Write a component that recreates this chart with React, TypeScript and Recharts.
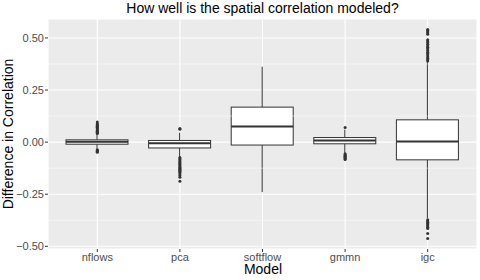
import React from 'react'
import {
  ComposedChart, Bar, Scatter, XAxis, YAxis, CartesianGrid, ReferenceLine, Label
} from 'recharts'

// box statistics per model
const models = ['nflows', 'pca', 'softflow', 'gmmn', 'igc']
const lower = [-0.032, -0.072, -0.240, -0.052, -0.366]
const q1 = [-0.010, -0.028, -0.014, -0.008, -0.085]
const median = [0.002, -0.005, 0.075, 0.008, 0.003]
const q3 = [0.011, 0.008, 0.168, 0.022, 0.107]
const upper = [0.036, 0.045, 0.362, 0.060, 0.386]

// outliers per model
const nflowsOut = [0.097, 0.088, 0.084, 0.080, 0.076, 0.072, 0.068, 0.064, 0.060, 0.056, 0.052, 0.048, 0.044, 0.041,
  -0.036, -0.040, -0.044, -0.048]
const pcaOut = [0.066, 0.062, -0.074, -0.080, -0.085, -0.090, -0.095, -0.100, -0.105, -0.110, -0.115, -0.120,
  -0.125, -0.130, -0.135, -0.140, -0.146, -0.152, -0.160, -0.168, -0.188]
const softflowOut: number[] = []
const gmmnOut = [0.070, -0.056, -0.060, -0.064, -0.068, -0.072, -0.076, -0.080, -0.083]
const igcOut = [0.541, 0.536, 0.530, 0.524, 0.518, 0.492, 0.485, 0.478, 0.470, 0.462, 0.455, 0.448, 0.440, 0.432,
  0.425, 0.418, 0.410, 0.403, 0.396, 0.390,
  -0.372, -0.378, -0.384, -0.390, -0.396, -0.402, -0.408, -0.414, -0.439, -0.463]

const yTicks = [-0.5, -0.25, 0, 0.25, 0.5]
const yMinor = [-0.375, -0.125, 0.125, 0.375]

const boxData = models.map((m, i) => ({
  model: m,
  range: [lower[i], upper[i]],
  lo: lower[i], q1: q1[i], med: median[i], q3: q3[i], hi: upper[i],
}))

const outlierData = [
  ...nflowsOut.map(v => ({ model: 'nflows', value: v })),
  ...pcaOut.map(v => ({ model: 'pca', value: v })),
  ...softflowOut.map(v => ({ model: 'softflow', value: v })),
  ...gmmnOut.map(v => ({ model: 'gmmn', value: v })),
  ...igcOut.map(v => ({ model: 'igc', value: v })),
]

const INK = '#333333'
const TICK = '#4D4D4D'
const FONT = '"Liberation Sans", Arial, sans-serif'

function BoxShape(props: any) {
  const { x, y, width, height, payload } = props
  const top = Math.min(y, y + height)
  const h = Math.abs(height)
  const { lo, hi } = payload
  // map a value inside the whisker range onto the bar's pixel span
  const py = (v: number) => top + ((hi - v) / (hi - lo)) * h
  const cx = x + width / 2
  return (
    <g>
      <line x1={cx} x2={cx} y1={py(hi)} y2={py(payload.q3)} stroke={INK} strokeWidth={1} />
      <line x1={cx} x2={cx} y1={py(payload.q1)} y2={py(lo)} stroke={INK} strokeWidth={1} />
      <rect x={x} y={py(payload.q3)} width={width} height={py(payload.q1) - py(payload.q3)}
        fill="#fff" stroke={INK} strokeWidth={1} />
      <line x1={x} x2={x + width} y1={py(payload.med)} y2={py(payload.med)} stroke={INK} strokeWidth={2} />
    </g>
  )
}

const Dot = (p: any) => <circle cx={p.cx} cy={p.cy} r={1.5} fill={INK} />

const XTick = (p: any) => (
  <text x={p.x} y={p.y} dy="0.71em" textAnchor="middle" fontSize={11} fill={TICK}>
    {p.payload.value}
  </text>
)

const fmt = (v: number) => v.toFixed(2).replace('-', '\u2212')

export default function App() {
  return (
    <div style={{ position: 'absolute', left: 0, top: 0, fontFamily: FONT, background: '#fff' }}>
      <ComposedChart width={480} height={280} data={boxData} margin={{ top: 19, right: 3, left: 0, bottom: 0 }}>
        <CartesianGrid fill="#EBEBEB" stroke="#fff" strokeWidth={1.1} />
        {yMinor.map(v => (
          <ReferenceLine key={v} y={v} stroke="#fff" strokeWidth={0.5} />
        ))}
        <XAxis
          dataKey="model"
          type="category"
          allowDuplicatedCategory={false}
          padding={{ left: 8, right: 8 }}
          height={31}
          axisLine={false}
          tickLine={{ stroke: INK }}
          tickSize={3}
          tickMargin={1}
          tick={XTick}
        >
          <Label content={() => (
            <text x={263} y={274} textAnchor="middle" fontSize={14} fill="#000">Model</text>
          )} />
        </XAxis>
        <YAxis
          type="number"
          domain={[-0.513, 0.591]}
          ticks={yTicks}
          tickFormatter={fmt}
          width={48}
          axisLine={false}
          tickLine={{ stroke: INK }}
          tickSize={3}
          tickMargin={1}
          tick={{ fill: TICK, stroke: 'none', fontSize: 11 }}
        >
          <Label content={() => (
            <text transform="translate(13,134) rotate(-90)" textAnchor="middle" fontSize={14} fill="#000">
              Difference in Correlation
            </text>
          )} />
        </YAxis>
        <Bar dataKey="range" barSize={62} shape={BoxShape} isAnimationActive={false} />
        <Scatter data={outlierData} dataKey="value" shape={Dot} isAnimationActive={false} />
        <text x={262.5} y={12.5} textAnchor="middle" fontSize={14} fill="#000">
          How well is the spatial correlation modeled?
        </text>
      </ComposedChart>
    </div>
  )
}
